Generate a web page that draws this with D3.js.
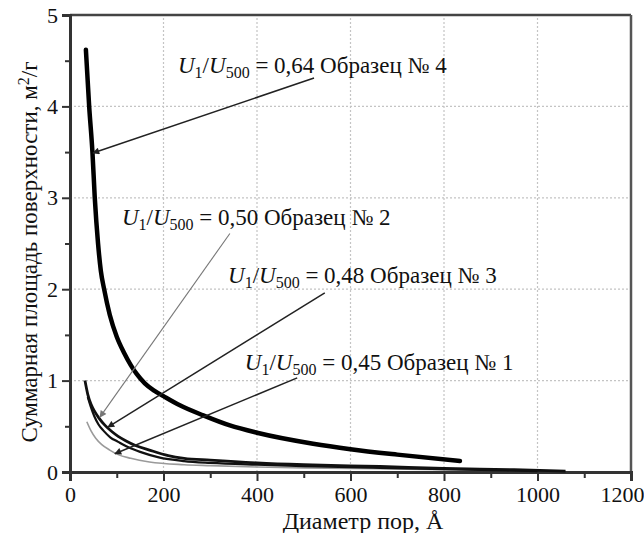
<!DOCTYPE html>
<html><head><meta charset="utf-8">
<script src="https://cdn.jsdelivr.net/npm/d3@7"></script>
<style>
body{margin:0;background:#fff;}
svg text{font-family:"Liberation Serif","Tinos","DejaVu Serif",serif !important;}
</style></head>
<body><svg id="c" width="644" height="533"></svg>
<script>
// ---- data ----
const xTicks = [0,200,400,600,800,1000,1200];
const yTicks = [0,1,2,3,4,5];
const s4d = [34,41,48,53,60,66,73,85,100,115,130,143,160,180,200,235,285,342,400,520,600,700,834];
const s4v = [4.62,4.0,3.5,3.0,2.5,2.2,2.0,1.72,1.48,1.31,1.17,1.07,0.97,0.89,0.83,0.73,0.62,0.51,0.43,0.31,0.25,0.19,0.12];
const s2d = [32,38,45,53,62,75,90,103,120,140,170,210,244,300,400,500,663,800,950,1060];
const s2v = [1.0,0.85,0.74,0.66,0.59,0.51,0.44,0.39,0.34,0.29,0.24,0.18,0.15,0.13,0.1,0.08,0.06,0.04,0.025,0.01];
const s3d = [38,44,52,61,72,86,103,125,150,190,244,300,400,500,663,800,1000];
const s3v = [0.82,0.72,0.61,0.52,0.45,0.38,0.33,0.27,0.22,0.16,0.12,0.1,0.08,0.065,0.045,0.03,0.01];
const s1d = [36,45,55,68,85,103,130,170,244,300,400,500,663,800,900];
const s1v = [0.55,0.45,0.37,0.30,0.24,0.19,0.15,0.11,0.08,0.07,0.055,0.045,0.035,0.025,0.02];
const ratios = ["0,64","0,50","0,48","0,45"];
const samples = ["4","2","3","1"];
// label anchors and arrows in data units [d, v]
const labelAt = [[231,4.37],[111,2.70],[338,2.07],[374,1.12]];
const arrowFrom = [[522,4.31],[342,2.61],[545,1.96],[486,1.03]];
const arrowTo = [[49,3.49],[64,0.60],[81,0.49],[96,0.20]];
const xTitle = "Диаметр пор, Å";
const yTitle = "Суммарная площадь поверхности, м";

// ---- chart ----
const svg = d3.select("#c");
const x = d3.scaleLinear().domain([0,1200]).range([70,631]);
const y = d3.scaleLinear().domain([0,5]).range([472,15]);
const F = 23, FT = 22, FS = 16;
const FONT = "'Liberation Serif','Tinos','DejaVu Serif',serif";

// grid
const g = svg.append("g");
g.selectAll(".gx").data(xTicks.filter(d=>d>0&&d<1200)).enter().append("line")
  .attr("x1",d=>x(d)).attr("x2",d=>x(d)).attr("y1",y(0)).attr("y2",y(5))
  .attr("stroke","#c4c4c4").attr("stroke-width",1.2).attr("stroke-dasharray","2,2");
g.selectAll(".gy").data(yTicks.filter(d=>d>0&&d<5)).enter().append("line")
  .attr("y1",d=>y(d)).attr("y2",d=>y(d)).attr("x1",x(0)).attr("x2",x(1200))
  .attr("stroke","#c4c4c4").attr("stroke-width",1.2).attr("stroke-dasharray","2,2");

// frame top/right
svg.append("line").attr("x1",x(0)).attr("x2",x(1200)).attr("y1",y(5)).attr("y2",y(5)).attr("stroke","#444").attr("stroke-width",2.5);
svg.append("line").attr("x1",x(1200)).attr("x2",x(1200)).attr("y1",y(5)).attr("y2",y(0)).attr("stroke","#555").attr("stroke-width",2.5);

// axes
const xa = svg.append("g").attr("transform",`translate(0,${y(0)})`)
  .call(d3.axisBottom(x).tickValues(xTicks).tickSize(9).tickPadding(5).tickFormat(d3.format("d")));
const xm = svg.append("g").attr("transform",`translate(0,${y(0)})`)
  .call(d3.axisBottom(x).tickValues(d3.range(100,1200,200)).tickSize(6).tickFormat(""));
const ya = svg.append("g").attr("transform",`translate(${x(0)},0)`)
  .call(d3.axisLeft(y).tickValues(yTicks).tickSize(8).tickPadding(4).tickFormat(d3.format("d")));
const ym = svg.append("g").attr("transform",`translate(${x(0)},0)`)
  .call(d3.axisLeft(y).tickValues(d3.range(0.5,5,1)).tickSize(5).tickFormat(""));
[xa,xm,ya,ym].forEach(a=>{
  a.attr("font-family",FONT).attr("font-size",FT);
  a.select(".domain").attr("stroke","#333").attr("stroke-width",3);
  a.selectAll(".tick line").attr("stroke","#333").attr("stroke-width",2);
  a.selectAll("text").attr("fill","#111");
});
xa.selectAll(".tick text").filter(d=>d===1200).attr("text-anchor","end").attr("dx","13");

// curves
const line = d3.line().x(d=>x(d[0])).y(d=>y(d[1])).curve(d3.curveMonotoneX);
const zip = (a,b)=>a.map((d,i)=>[d,b[i]]);
svg.append("path").datum(zip(s1d,s1v)).attr("d",line).attr("fill","none").attr("stroke","#9a9a9a").attr("stroke-width",1.6);
svg.append("path").datum(zip(s3d,s3v)).attr("d",line).attr("fill","none").attr("stroke","#111").attr("stroke-width",2.2);
svg.append("path").datum(zip(s2d,s2v)).attr("d",line).attr("fill","none").attr("stroke","#111").attr("stroke-width",2.8);
svg.append("path").datum(zip(s4d,s4v)).attr("d",line).attr("fill","none").attr("stroke","#000").attr("stroke-width",4.5).attr("stroke-linecap","round");

// arrowheads
const defs = svg.append("defs");
["#222","#777"].forEach((c,i)=>{
  defs.append("marker").attr("id","ah"+i).attr("viewBox","0 0 10 10").attr("refX",9).attr("refY",5)
    .attr("markerWidth",9).attr("markerHeight",7).attr("markerUnits","userSpaceOnUse").attr("orient","auto")
    .append("path").attr("d","M0,0L10,5L0,10Z").attr("fill",c);
});
arrowFrom.forEach((f,i)=>{
  const gray = i===1;
  svg.append("line").attr("x1",x(f[0])).attr("y1",y(f[1])).attr("x2",x(arrowTo[i][0])).attr("y2",y(arrowTo[i][1]))
    .attr("stroke",gray?"#777":"#222").attr("stroke-width",gray?1.1:1.5)
    .attr("marker-end",`url(#ah${gray?1:0})`);
});

// labels
labelAt.forEach((p,i)=>{
  const t = svg.append("text").attr("x",x(p[0])).attr("y",y(p[1])).attr("font-family",FONT).attr("font-size",F).attr("fill","#111");
  t.append("tspan").attr("font-style","italic").text("U");
  t.append("tspan").attr("font-size",FS).attr("dy",5).text("1");
  t.append("tspan").attr("dy",-5).text("/");
  t.append("tspan").attr("font-style","italic").text("U");
  t.append("tspan").attr("font-size",FS).attr("dy",5).text("500");
  t.append("tspan").attr("dy",-5).text(` = ${ratios[i]} Образец № ${samples[i]}`);
});

// titles
svg.append("text").attr("x",363).attr("y",529).attr("text-anchor","middle").attr("font-family",FONT).attr("font-size",F+1).attr("fill","#111").text(xTitle);
const yt = svg.append("text").attr("transform",`translate(37,252) rotate(-90)`).attr("text-anchor","middle").attr("font-family",FONT).attr("font-size",F).attr("fill","#111");
yt.append("tspan").text(yTitle);
yt.append("tspan").attr("font-size",FS).attr("dy",-8).text("2");
yt.append("tspan").attr("dy",8).text("/г");
</script></body></html>
